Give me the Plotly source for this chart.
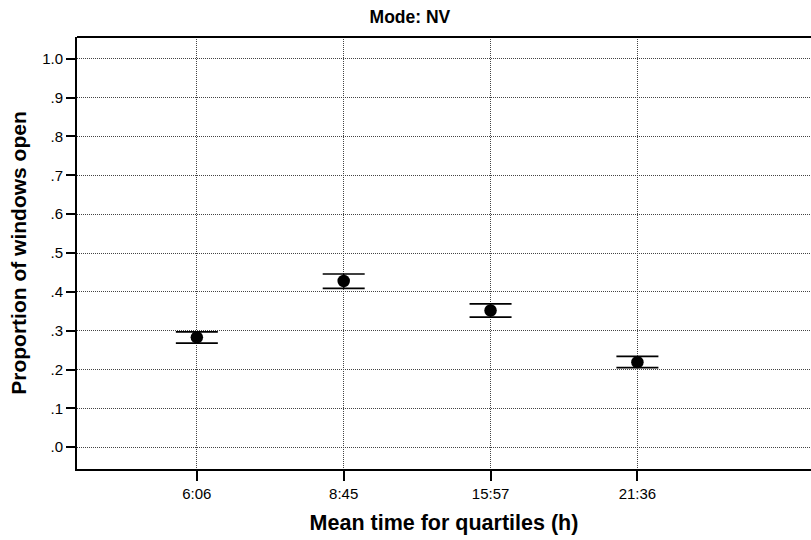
import plotly.graph_objects as go

categories = ["6:06", "8:45", "15:57", "21:36"]
means = [0.283, 0.428, 0.352, 0.219]
upper = [0.297, 0.446, 0.369, 0.234]
lower = [0.268, 0.409, 0.335, 0.205]
y_ticks = [0.0, 0.1, 0.2, 0.3, 0.4, 0.5, 0.6, 0.7, 0.8, 0.9, 1.0]
y_labels = [".0", ".1", ".2", ".3", ".4", ".5", ".6", ".7", ".8", ".9", "1.0"]

x_idx = list(range(len(categories)))
err_plus = [u - m for u, m in zip(upper, means)]
err_minus = [m - l for m, l in zip(means, lower)]

fig = go.Figure()
fig.add_trace(go.Scatter(
    x=x_idx, y=means, mode="markers",
    marker=dict(color="black", size=12.5),
    error_y=dict(type="data", array=err_plus, arrayminus=err_minus,
                 symmetric=False, color="black", thickness=1.6, width=21),
    showlegend=False,
))

font = "Liberation Sans, Arial, sans-serif"
fig.update_layout(
    width=811, height=540,
    margin=dict(l=77, r=0, t=37, b=71),
    plot_bgcolor="white", paper_bgcolor="white",
    font=dict(family=font, color="black", size=15),
    title=dict(text="<b>Mode: NV</b>", x=0.5055, xanchor="center", y=0.968, yanchor="middle",
               font=dict(size=17.5, family=font, color="black")),
    xaxis=dict(
        range=[-0.816, 4.182], tickmode="array", tickvals=x_idx, ticktext=categories,
        showgrid=True, gridcolor="#444", griddash="1px,1px", gridwidth=1,
        ticks="outside", ticklen=10, tickwidth=2, tickcolor="black",
        showline=True, linecolor="black", linewidth=2, zeroline=False,
        title=dict(text="<b>Mean time for quartiles (h)</b>", font=dict(size=21.5), standoff=14),
        tickfont=dict(size=15),
    ),
    yaxis=dict(
        range=[-0.056, 1.056], tickmode="array", tickvals=y_ticks, ticktext=y_labels,
        showgrid=True, gridcolor="#444", griddash="1px,1px", gridwidth=1,
        ticks="outside", ticklen=9, tickwidth=2, tickcolor="black",
        showline=True, linecolor="black", linewidth=2, zeroline=False,
        title=dict(text="<b>Proportion of windows open</b>", font=dict(size=21), standoff=10),
        tickfont=dict(size=15),
    ),
)
fig.add_shape(type="line", xref="paper", yref="paper", x0=0, x1=1, y0=1, y1=1,
              line=dict(color="black", width=2))
fig.write_html("out.html")
